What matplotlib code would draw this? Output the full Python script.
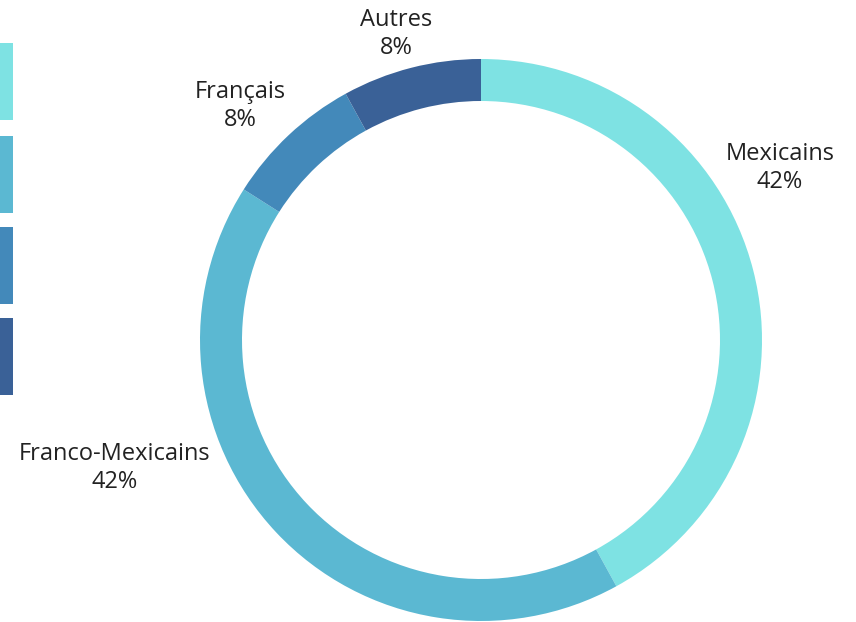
import matplotlib
matplotlib.use("Agg")
import matplotlib.pyplot as plt
from matplotlib.patches import Rectangle

categories = ["Mexicains", "Franco-Mexicains", "Français", "Autres"]
values = [42, 42, 8, 8]
colors = ["#7ee2e3", "#5bb8d2", "#4389ba", "#3a6197"]

# label positions in pixel coordinates (x, y from top)
label_pos = [(780, 168), (115, 468), (240, 106), (396, 34)]

W, H = 856, 622
fig = plt.figure(figsize=(W / 100, H / 100), dpi=100)
ax = fig.add_axes([0, 0, 1, 1])

cx, cy = 481, H - 340
R, ring = 281, 42
ax.pie(values, colors=colors, startangle=90, counterclock=False,
       radius=R, center=(cx, cy), wedgeprops=dict(width=ring, linewidth=0))
ax.set_xlim(0, W)
ax.set_ylim(0, H)
ax.set_aspect("equal")
ax.axis("off")

for cat, val, (lx, ly) in zip(categories, values, label_pos):
    ax.text(lx, H - ly, f"{cat}\n{val}%", ha="center", va="center",
            fontsize=17, family=["Open Sans", "DejaVu Sans"], color="#222222",
            linespacing=1.25)

# legend swatches (clipped at left edge)
sw_top = [43, 136, 227, 318]
for c, t in zip(colors, sw_top):
    ax.add_patch(Rectangle((-20, H - t - 77), 33, 77, color=c, lw=0))

fig.savefig("out.png", dpi=100)
